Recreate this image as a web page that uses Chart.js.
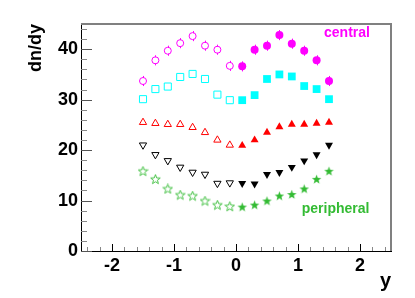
<!DOCTYPE html>
<html>
<head>
<meta charset="utf-8">
<script src="https://cdn.jsdelivr.net/npm/chart.js@4/dist/chart.umd.min.js"></script>
<style>
  body { margin: 0; background: #fff; }
  #wrap { width: 415px; height: 298px; }
</style>
</head>
<body>
<div id="wrap"><canvas id="c" width="415" height="298"></canvas></div>
<script>
// rapidity bins: open markers at negative y, filled at positive y
const xNeg = [-1.5, -1.3, -1.1, -0.9, -0.7, -0.5, -0.3, -0.1];
const xPos = [0.1, 0.3, 0.5, 0.7, 0.9, 1.1, 1.3, 1.5];

const centralOpen   = [33.7, 37.8, 39.7, 41.2, 42.6, 40.7, 39.9, 36.7];
const centralFilled = [36.6, 39.9, 40.7, 42.8, 41.1, 39.7, 37.8, 33.7];
const centralErr    = 1.0;
const cyanOpen      = [30.1, 32.1, 32.6, 34.5, 35.1, 34.1, 31.0, 29.9];
const cyanFilled    = [29.9, 30.9, 34.1, 35.0, 34.6, 32.7, 32.1, 30.1];
const redOpen       = [25.5, 25.3, 25.1, 25.1, 24.5, 23.5, 22.0, 21.0];
const redFilled     = [20.9, 22.0, 23.5, 24.6, 25.1, 25.1, 25.3, 25.5];
const blackOpen     = [21.0, 19.1, 17.9, 16.6, 15.6, 15.2, 13.4, 13.5];
const blackFilled   = [13.4, 13.3, 15.2, 15.6, 16.6, 17.9, 19.1, 21.0];
const periphOpen    = [15.8, 14.2, 12.3, 11.1, 10.9, 9.9, 9.1, 8.8];
const periphFilled  = [8.7, 9.1, 9.9, 10.9, 11.2, 12.3, 14.2, 15.8];

const xTicks = [-2, -1, 0, 1, 2];
const yTicks = [0, 10, 20, 30, 40];

const MAGENTA = '#ff00ff';
const CYAN = '#00ffff';
const RED = '#ff0000';
const BLACK = '#000000';
const GREEN = '#33bb33';
const FONT = 'Liberation Sans, Arial, Helvetica, sans-serif';

function pts(xs, ys) {
    return xs.map((x, i) => ({ x: x, y: ys[i] }));
}

// small star marker (ROOT style 29 / 30)
function starImage(color, filled) {
    const c = document.createElement('canvas');
    c.width = 11; c.height = 11;
    const g = c.getContext('2d');
    g.beginPath();
    for (let i = 0; i < 10; i++) {
        const r = i % 2 === 0 ? 5 : 2.1;
        const a = -Math.PI / 2 + i * Math.PI / 5;
        const px = 5.5 + Math.cos(a) * r;
        const py = 5.7 + Math.sin(a) * r;
        if (i === 0) g.moveTo(px, py); else g.lineTo(px, py);
    }
    g.closePath();
    if (filled) {
        g.fillStyle = color; g.fill();
    } else {
        g.strokeStyle = color; g.lineWidth = 0.9; g.stroke();
    }
    return c;
}

function serie(data, color, style, filled, radius, rot) {
    return {
        data: data,
        showLine: false,
        pointStyle: style,
        pointRotation: rot || 0,
        pointRadius: radius,
        pointBackgroundColor: filled ? color : 'rgba(0,0,0,0)',
        pointBorderColor: color,
        pointBorderWidth: filled ? 0 : 1
    };
}

const datasets = [
    serie(pts(xNeg, centralOpen), MAGENTA, 'circle', false, 3.5),
    serie(pts(xPos, centralFilled), MAGENTA, 'circle', true, 4),
    serie(pts(xNeg, cyanOpen), CYAN, 'rect', false, 5),
    serie(pts(xPos, cyanFilled), CYAN, 'rect', true, 5.5),
    serie(pts(xNeg, redOpen), RED, 'triangle', false, 4.2),
    serie(pts(xPos, redFilled), RED, 'triangle', true, 4.6),
    serie(pts(xNeg, blackOpen), BLACK, 'triangle', false, 4.2, 180),
    serie(pts(xPos, blackFilled), BLACK, 'triangle', true, 4.6, 180),
    serie(pts(xNeg, periphOpen), GREEN, starImage(GREEN, false), false, 5),
    serie(pts(xPos, periphFilled), GREEN, starImage(GREEN, true), true, 5)
];

// ROOT like frame: grey top/right edge, ticks pointing inwards, labels
const rootFrame = {
    id: 'rootFrame',
    beforeDatasetsDraw(chart) {
        const { ctx, chartArea: a, scales: { x, y } } = chart;
        ctx.save();
        ctx.strokeStyle = '#808080';
        ctx.lineWidth = 2;
        ctx.beginPath();
        ctx.moveTo(a.left, a.top);
        ctx.lineTo(a.right, a.top);
        ctx.lineTo(a.right, a.bottom);
        ctx.stroke();

        ctx.lineWidth = 1;
        for (let v = 0; v <= 45; v += 2) {
            const py = Math.round(y.getPixelForValue(v)) + 0.5;
            const len = v % 10 === 0 ? 11 : 6;
            ctx.strokeStyle = v % 10 === 0 ? '#555' : '#888';
            ctx.beginPath();
            ctx.moveTo(a.left, py);
            ctx.lineTo(a.left + len, py);
            ctx.stroke();
        }
        for (let i = -12; i <= 12; i++) {
            const v = i * 0.2;
            const px = Math.round(x.getPixelForValue(v)) + 0.5;
            const major = i % 5 === 0;
            ctx.strokeStyle = major ? '#000' : '#888';
            ctx.beginPath();
            ctx.moveTo(px, a.bottom);
            ctx.lineTo(px, a.bottom - (major ? 7 : 4));
            ctx.stroke();
        }

        // error bars on the central points, drawn outside the marker only
        ctx.strokeStyle = MAGENTA;
        const bars = pts(xNeg, centralOpen).concat(pts(xPos, centralFilled));
        bars.forEach(p => {
            const px = Math.round(x.getPixelForValue(p.x)) + 0.5;
            const py = y.getPixelForValue(p.y);
            const lo = y.getPixelForValue(p.y - centralErr);
            const hi = y.getPixelForValue(p.y + centralErr);
            ctx.beginPath();
            ctx.moveTo(px, hi); ctx.lineTo(px, py - 3);
            ctx.moveTo(px, py + 3); ctx.lineTo(px, lo);
            ctx.stroke();
        });
        ctx.restore();
    },
    afterDraw(chart) {
        const { ctx, scales: { x, y } } = chart;
        ctx.save();
        ctx.font = 'bold 14px ' + FONT;
        ctx.textBaseline = 'middle';
        ctx.fillStyle = MAGENTA;
        ctx.fillText('central', x.getPixelForValue(1.42), y.getPixelForValue(43.2));
        ctx.fillStyle = GREEN;
        ctx.fillText('peripheral', x.getPixelForValue(1.06), y.getPixelForValue(8.3));
        ctx.restore();
    }
};

new Chart(document.getElementById('c'), {
    type: 'scatter',
    data: { datasets: datasets },
    plugins: [rootFrame],
    options: {
        responsive: false,
        animation: false,
        layout: { padding: { top: 24, right: 24, left: 0, bottom: 0 } },
        plugins: { legend: { display: false }, tooltip: { enabled: false } },
        scales: {
            x: {
                type: 'linear',
                min: -2.5,
                max: 2.5,
                afterBuildTicks: s => { s.ticks = xTicks.map(v => ({ value: v })); },
                afterFit: s => { s.height = 47; },
                grid: { display: false, drawTicks: false },
                border: { color: '#000', width: 1 },
                ticks: { padding: 4, color: '#000', font: { family: FONT, size: 18, weight: 'bold' } },
                title: {
                    display: true, text: 'y', align: 'end', color: '#000',
                    font: { family: FONT, size: 20, weight: 'bold' },
                    padding: { top: 0, bottom: 5 }
                }
            },
            y: {
                min: 0,
                max: 45,
                afterBuildTicks: s => { s.ticks = yTicks.map(v => ({ value: v })); },
                afterFit: s => { s.width = 81; },
                grid: { display: false, drawTicks: false },
                border: { color: '#000', width: 1 },
                ticks: { padding: 3, color: '#000', font: { family: FONT, size: 18, weight: 'bold' } },
                title: {
                    display: true, text: 'dn/dy', align: 'end', color: '#000',
                    font: { family: FONT, size: 18, weight: 'bold' },
                    padding: { top: 25, bottom: 0 }
                }
            }
        }
    }
});
</script>
</body>
</html>
